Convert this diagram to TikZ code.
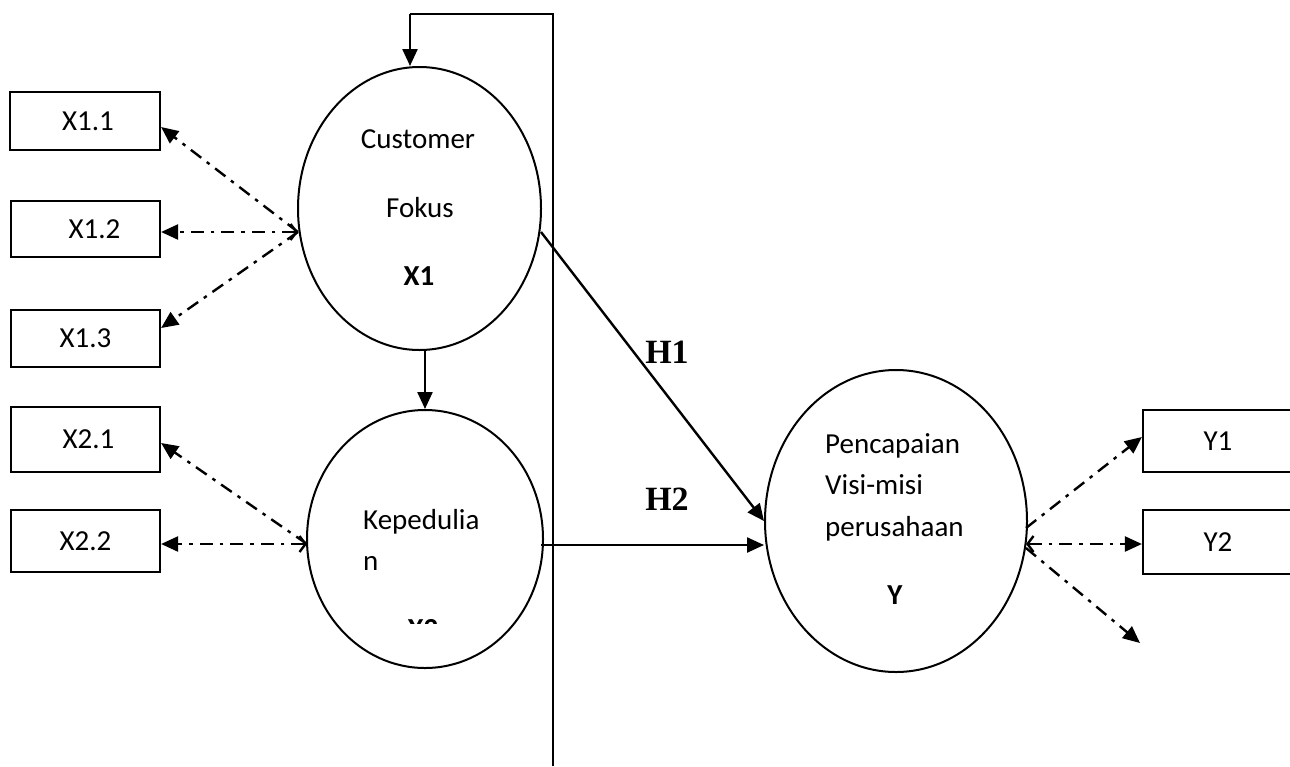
\documentclass[tikz,border=0pt]{standalone}
\usepackage{fontspec}
\setmainfont{Carlito}
\newfontfamily\hfont{Liberation Serif}
\usetikzlibrary{shapes.geometric,arrows.meta}
\begin{document}
\begin{tikzpicture}[x=1pt,y=-1pt,
  lat/.style={draw,ellipse,line width=2pt,inner sep=0pt},
  ind/.style={draw,rectangle,line width=2.2pt,inner sep=0pt,font=\fontsize{29}{33}\selectfont},
  txt/.style={font=\fontsize{29}{33}\selectfont,inner sep=0pt},
  btxt/.style={font=\fontsize{29}{33}\selectfont\bfseries,inner sep=0pt},
  hlab/.style={font={\hfont\bfseries\fontsize{34}{38}\selectfont},inner sep=0pt},
  solidarr/.style={line width=2.4pt,-{Triangle[length=17pt,width=15pt]}},
  plain/.style={line width=2.4pt},
  dd/.style={line width=2.4pt,dash pattern=on 13pt off 7pt on 3.5pt off 7pt,-{Triangle[length=17pt,width=15pt]}},
  ddb/.style={line width=2.4pt,dash pattern=on 13pt off 7pt on 3.5pt off 7pt,{Straight Barb[length=6pt,width=16pt]}-{Triangle[length=17pt,width=15pt]}}
]
\useasboundingbox (0,0) rectangle (1290,766);

% latent variables
\node[lat,minimum width=243pt,minimum height=283pt] (cf) at (419.5,208.5) {};
\node[lat,minimum width=236pt,minimum height=258pt] (kp) at (425,539) {};
\node[lat,minimum width=262pt,minimum height=302pt] (pv) at (896,521) {};

% texts in ellipses
\node[txt,anchor=base] (t1) at (418,148) {Customer};
\node[txt,anchor=base] (t2) at (420,217) {Fokus};
\node[btxt,anchor=base] (t3) at (419,285) {X1};
\node[txt,anchor=base west] (t4) at (363,529) {Kepedulia};
\node[txt,anchor=base west] (t5) at (363,570) {n};
\begin{scope}
  \clip (300,600) rectangle (550,623);
  \node[btxt,anchor=base] (t6) at (423,638) {X2};
\end{scope}
\node[txt,anchor=base west] (t7) at (825,453) {Pencapaian};
\node[txt,anchor=base west] (t8) at (825,494) {Visi-misi};
\node[txt,anchor=base west] (t9) at (825,536) {perusahaan};
\node[btxt,anchor=base] (t10) at (895,604) {Y};

% indicator boxes
\node[ind,minimum width=150pt,minimum height=58pt] (x11) at (85,121) {\hspace*{6pt}X1.1};
\node[ind,minimum width=149pt,minimum height=56pt] (x12) at (85.5,229) {\hspace*{18pt}X1.2};
\node[ind,minimum width=149pt,minimum height=57pt] (x13) at (85.5,338.5) {X1.3};
\node[ind,minimum width=149pt,minimum height=65pt] (x21) at (85.5,439.5) {\hspace*{6pt}X2.1};
\node[ind,minimum width=149pt,minimum height=62pt] (x22) at (85.5,541) {X2.2};
\node[ind,minimum width=150pt,minimum height=62pt] (y1) at (1218,441) {Y1};
\node[ind,minimum width=150pt,minimum height=64pt] (y2) at (1218,542) {Y2};

% hypothesis labels
\node[hlab] (h1) at (667,352) {H1};
\node[hlab] (h2) at (667,499) {H2};

% connection points
\coordinate (cfL) at (298,232);
\coordinate (cfR) at (541,232);
\coordinate (kpL) at (307,544);
\coordinate (kpR) at (541,545);
\coordinate (pvR1) at (1026,528);
\coordinate (pvR2) at (1026,544);
\coordinate (pvR3) at (1026,548);
\coordinate (yend) at (1140,643);
\coordinate (lb) at (553,766);
\coordinate (lt) at (553,14);
\coordinate (ll) at (410,14);

% indicator arrows
\draw[dd] (cfL) -- ([yshift=-6pt]x11.east);
\draw[ddb] (cfL) -- ([yshift=-3pt]x12.east);
\draw[dd] (cfL) -- ([yshift=10.5pt]x13.east);
\draw[dd] (kpL) -- ([yshift=-3.5pt]x21.east);
\draw[ddb] (kpL) -- ([yshift=-3pt]x22.east);
\draw[dd] (pvR1) -- ([yshift=4pt]y1.west);
\draw[ddb] (pvR2) -- ([yshift=-2pt]y2.west);
\draw[dd] (pvR3) -- (yend);

% structural arrows
\draw[solidarr] (kp.north |- cf.south) -- (kp.north);
\draw[solidarr] (cfR) -- (pv.west);
\draw[solidarr] (kpR) -- (pv.west |- kpR);
\draw[plain] (lb) -- (lt) -- (ll);
\draw[solidarr] (ll) -- (ll |- cf.north);
\end{tikzpicture}
\end{document}
